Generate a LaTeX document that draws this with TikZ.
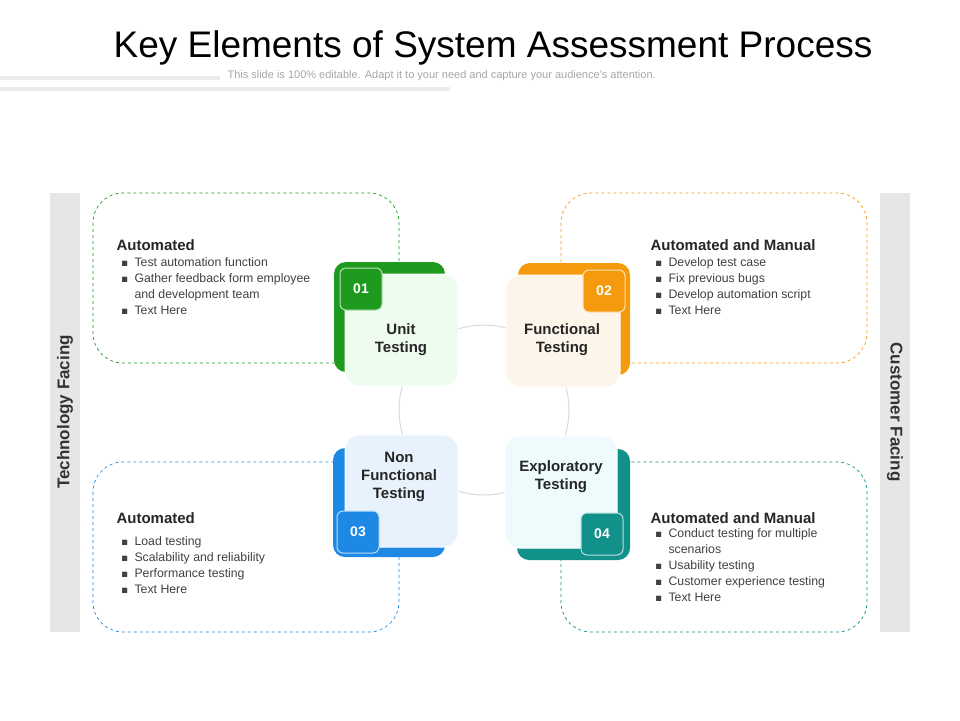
\documentclass[tikz,border=0pt]{standalone}
\usepackage{fontspec}
\setmainfont{Liberation Sans}
\usepackage{amssymb}
\definecolor{ugreen}{HTML}{1E9A1E}
\definecolor{uorange}{HTML}{F59A0C}
\definecolor{ublue}{HTML}{1E88E5}
\definecolor{uteal}{HTML}{12918A}
\definecolor{bargrey}{HTML}{E6E6E6}
\definecolor{lgreen}{HTML}{EEFCEE}
\definecolor{lorange}{HTML}{FEF5EA}
\definecolor{lblue}{HTML}{E8F2FC}
\definecolor{lteal}{HTML}{EEFBFC}
\tikzset{
  back/.style={rounded corners=12pt, fill=#1},
  front/.style={rounded corners=14pt, fill=#1, draw=white, line width=1pt},
  badge/.style={rounded corners=6pt, fill=#1, draw=white!70!#1, line width=1pt,
    text=white, font=\bfseries\fontsize{14}{14}\selectfont},
  cardtext/.style={font=\bfseries\fontsize{15}{18}\selectfont, align=center, text=black!85},
  frame/.style={draw=#1, dashed, rounded corners=30pt, line width=0.7pt},
  head/.style={anchor=west, font=\bfseries\fontsize{15}{15}\selectfont, text=black!85},
  items/.style={anchor=north west, align=left, font=\fontsize{12.3}{16}\selectfont, text=black!75}
}
\newcommand{\itm}{\makebox[13pt][l]{\fontsize{7}{7}\selectfont$\blacksquare$}}
\begin{document}
\begin{tikzpicture}[x=1pt, y=-1pt]
\useasboundingbox (0,0) rectangle (960,720);
% title
\node (title) at (493,48) {\fontsize{37}{37}\selectfont Key Elements of System Assessment Process};
\node[anchor=west, text=black!35] (sub) at (224,76) {\fontsize{11}{11}\selectfont This slide is 100\% editable. Adapt it to your need and capture your audience's attention.};
\fill[black!8] (0,76) rectangle (220,80);
\fill[black!8] (0,87) rectangle (450,91);
% side bars
\fill[bargrey] (50,193) rectangle (80,632);
\fill[bargrey] (880,193) rectangle (910,632);
\node[rotate=90, font=\bfseries\fontsize{17}{17}\selectfont, text=black!80] (tech) at (65,412) {Technology Facing};
\node[rotate=-90, font=\bfseries\fontsize{17}{17}\selectfont, text=black!80] (cust) at (895,412) {Customer Facing};
% dashed frames
\draw[frame=ugreen] (93,193) rectangle (399,363);
\draw[frame=uorange] (561,193) rectangle (867,363);
\draw[frame=ublue] (93,462) rectangle (399,632);
\draw[frame=uteal] (561,462) rectangle (867,632);
% circle
\draw[black!15, line width=1pt] (484,410) circle (85);
% cards
\fill[back=ugreen] (334,262) rectangle (445,372);
\draw[front=lgreen] (345,274) rectangle (458,386);
\node[badge=ugreen, minimum width=42pt, minimum height=42pt] (b1) at (361,289) {01};
\node[cardtext] (c1) at (401,340) {Unit\\Testing};
\fill[back=uorange] (518,263) rectangle (630,375);
\draw[front=lorange] (506,275) rectangle (620,387);
\node[badge=uorange, minimum width=42pt, minimum height=42pt] (b2) at (604,291) {02};
\node[cardtext] (c2) at (562,340) {Functional\\Testing};
\fill[back=ublue] (333,448) rectangle (445,557);
\draw[front=lblue] (345,435) rectangle (458,547);
\node[badge=ublue, minimum width=42pt, minimum height=42pt] (b3) at (358,532) {03};
\node[cardtext] (c3) at (399,477) {Non\\Functional\\Testing};
\fill[back=uteal] (517,449) rectangle (630,560);
\draw[front=lteal] (505,436) rectangle (617,548);
\node[badge=uteal, minimum width=42pt, minimum height=42pt] (b4) at (602,534) {04};
\node[cardtext] (c4) at (561,477) {Exploratory\\Testing};
% texts
\node[head] (h1) at (113,245) {Automated};
\node[items] (l1) at (118,254) {\itm Test automation function\\ \itm Gather feedback form employee\\ \hspace{13pt}and development team\\ \itm Text Here};
\node[head] (h2) at (647,245) {Automated and Manual};
\node[items] (l2) at (652,254) {\itm Develop test case\\ \itm Fix previous bugs\\ \itm Develop automation script\\ \itm Text Here};
\node[head] (h3) at (113,518) {Automated};
\node[items] (l3) at (118,533) {\itm Load testing\\ \itm Scalability and reliability\\ \itm Performance testing\\ \itm Text Here};
\node[head] (h4) at (647,518) {Automated and Manual};
\node[items] (l4) at (652,525) {\itm Conduct testing for multiple\\ \hspace{13pt}scenarios\\ \itm Usability testing\\ \itm Customer experience testing\\ \itm Text Here};
\end{tikzpicture}
\end{document}
